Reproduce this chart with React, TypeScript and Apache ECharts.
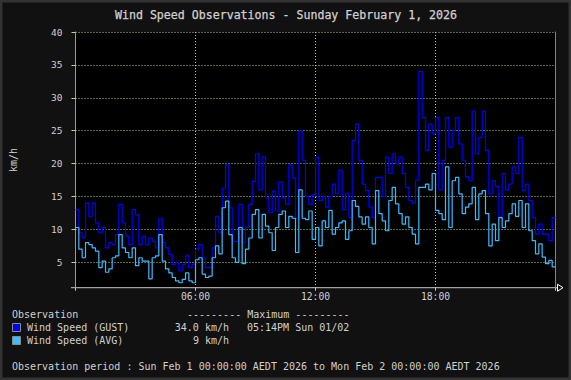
import React, { useEffect, useRef } from "react";
import * as echarts from "echarts";

// 10-minute samples, 00:00 -> 23:50 (km/h)
const gustValues: number[] = [
  13.0, 9.5, 8.7, 14.0, 12.0, 14.0, 11.0, 9.5, 10.3, 7.2, 8.0, 7.7, 9.2, 13.8, 11.0, 9.0, 7.7, 13.0, 12.2, 7.7, 9.0, 7.7, 8.7, 8.2,
  7.2, 11.7, 8.0, 7.2, 6.2, 4.7, 5.0, 3.7, 4.7, 6.0, 4.2, 4.7, 7.0, 7.7, 5.7, 4.2, 4.2, 7.2, 12.0, 9.5, 16.3, 19.8, 13.3, 8.2,
  8.2, 13.8, 8.0, 10.3, 13.8, 17.3, 21.5, 16.0, 21.0, 14.8, 12.5, 15.8, 12.8, 17.2, 14.8, 13.8, 19.8, 17.8, 11.7, 25.0, 20.5, 15.0, 13.8, 15.3,
  21.0, 14.4, 15.0, 13.4, 15.0, 16.9, 15.5, 19.0, 13.0, 15.5, 11.8, 23.5, 26.0, 20.5, 16.9, 15.9, 13.4, 11.8, 17.9, 17.9, 15.0, 21.0, 18.5, 21.5,
  20.0, 21.0, 18.5, 16.4, 14.4, 14.0, 17.5, 34.0, 27.0, 22.0, 26.0, 24.5, 27.0, 16.0, 20.5, 27.0, 22.5, 25.0, 27.0, 23.0, 20.5, 18.0, 17.4, 28.0,
  21.5, 24.0, 28.0, 22.0, 15.4, 17.4, 16.5, 12.0, 18.5, 16.0, 16.9, 19.5, 18.5, 24.0, 15.9, 16.9, 14.4, 11.8, 9.3, 10.8, 9.3, 9.3, 8.3, 11.8,
];
const avgValues: number[] = [
  10.3, 7.0, 5.7, 8.0, 7.7, 7.2, 6.7, 4.2, 5.2, 3.5, 4.0, 5.7, 6.0, 9.2, 7.2, 6.5, 5.7, 7.2, 4.5, 5.7, 5.2, 5.2, 2.5, 5.7,
  6.0, 9.2, 5.2, 4.0, 3.4, 2.7, 2.2, 1.9, 2.4, 3.4, 2.2, 1.9, 5.4, 5.7, 3.2, 2.7, 2.9, 5.7, 7.5, 6.3, 13.3, 14.3, 9.2, 5.7,
  5.0, 10.3, 4.8, 7.0, 8.7, 12.3, 13.0, 8.7, 12.3, 10.5, 9.5, 6.8, 10.3, 12.3, 12.8, 10.3, 12.0, 11.7, 6.5, 16.0, 11.7, 11.5, 12.8, 8.5,
  10.3, 7.5, 11.3, 10.3, 12.9, 9.3, 10.3, 11.0, 11.3, 8.5, 9.8, 14.4, 13.5, 11.9, 10.8, 11.9, 10.3, 7.8, 15.9, 12.4, 11.3, 9.8, 14.4, 16.4,
  13.9, 12.4, 10.8, 11.9, 10.3, 9.3, 7.8, 16.4, 16.4, 16.9, 16.0, 18.5, 12.9, 12.4, 11.5, 19.5, 10.3, 17.4, 17.9, 15.4, 12.4, 13.4, 13.9, 16.4,
  11.5, 15.4, 15.9, 12.4, 7.5, 10.8, 8.3, 11.8, 10.3, 11.3, 12.4, 13.9, 12.0, 14.4, 10.3, 13.9, 9.8, 8.3, 6.3, 7.8, 5.8, 4.8, 5.3, 4.3,
];
const xTickLabels: string[] = ["", "06:00", "12:00", "18:00", ""];
const seriesNames: string[] = ["Wind Speed (GUST)", "Wind Speed (AVG)"];
const maxTexts: string[] = ["34.0 km/h", "9 km/h"];
const maxTimeText = "05:14PM Sun 01/02";
const titleText = "Wind Speed Observations - Sunday February 1, 2026";
const periodText = "Observation period : Sun Feb 1 00:00:00 AEDT 2026 to Mon Feb 2 00:00:00 AEDT 2026";

const MONO = "'DejaVu Sans Mono', monospace";
const TEXT = "#d0d0d0";
const GRID = "#acdc8c";
const GUST = "#0000ff";
const AVG = "#3cbcff";

function toSteps(vals: number[]): number[][] {
  const pts = vals.map((v, i) => [i / 6, v]);
  pts.push([24, vals[vals.length - 1]]);
  return pts;
}

export default function App() {
  const ref = useRef<HTMLDivElement>(null);
  useEffect(() => {
    if (!ref.current) return;
    const chart = echarts.init(ref.current, null, { renderer: "svg" });
    const L = 75.5, T = 32, W = 480, H = 255.7;
    const B = T + H;
    chart.setOption({
      animation: false,
      backgroundColor: "#111111",
      grid: { left: L, top: T, width: W, height: H, show: true, backgroundColor: "#000000", borderWidth: 0 },
      xAxis: {
        type: "value", min: 0, max: 24, interval: 6,
        axisLine: { show: false },
        axisTick: { show: true, length: 3, lineStyle: { color: GRID } },
        axisLabel: {
          margin: 4, color: TEXT, fontFamily: MONO, fontSize: 9.7,
          formatter: (v: number) => xTickLabels[Math.round(v / 6)] ?? "",
        },
        splitLine: { show: true, showMinLine: false, showMaxLine: false, lineStyle: { color: GRID, type: [1, 2], width: 1 } },
      },
      yAxis: [
        {
          type: "value", min: 1.15, max: 40, splitNumber: 8,
          axisLine: { show: true, lineStyle: { color: "#8aac60", width: 1 } },
          axisTick: { show: true, inside: false, length: 4, lineStyle: { color: GRID } },
          axisLabel: {
            margin: 13, color: TEXT, fontFamily: MONO, fontSize: 9.5, showMinLabel: false,
            formatter: (v: number) => (Math.abs(v % 5) < 1e-6 ? String(v) : ""),
          },
          splitLine: { show: true, showMinLine: false, lineStyle: { color: GRID, type: [1, 2], width: 1 } },
        },
        {
          type: "value", min: 1.15, max: 40, position: "right",
          axisLine: { show: true, lineStyle: { color: "#8c8c3c", width: 1 } },
          axisTick: { show: false }, axisLabel: { show: false }, splitLine: { show: false },
        },
      ],
      series: [
        {
          name: seriesNames[0], type: "line", step: "end", showSymbol: false, symbol: "none",
          data: toSteps(gustValues), lineStyle: { color: GUST, width: 1.2 }, itemStyle: { color: GUST },
        },
        {
          name: seriesNames[1], type: "line", step: "end", showSymbol: false, symbol: "none",
          data: toSteps(avgValues), lineStyle: { color: AVG, width: 1.2 }, itemStyle: { color: AVG },
        },
      ],
      graphic: [
        { type: "rect", shape: { x: 1, y: 1, width: 569, height: 378 }, style: { fill: "none", stroke: "#333333", lineWidth: 3 }, silent: true },
        { type: "text", x: 286, y: 15, style: { text: titleText, fill: TEXT, font: `11.6px ${MONO}`, align: "center", verticalAlign: "middle", stroke: TEXT, lineWidth: 0.25 } },
        { type: "text", x: 13, y: 160, rotation: Math.PI / 2, style: { text: "km/h", fill: TEXT, font: `10px ${MONO}`, align: "center", verticalAlign: "middle" } },
        { type: "line", shape: { x1: 71, y1: B, x2: 558, y2: B }, style: { stroke: "#c8c8c8", lineWidth: 1 } },
        { type: "polygon", shape: { points: [[557.5, B - 3.5], [557.5, B + 3.5], [563, B]] }, style: { fill: "#111111", stroke: "#ffffff", lineWidth: 1 } },
        { type: "text", x: 12, y: 314, style: { text: "Observation", fill: TEXT, font: `10px ${MONO}`, align: "left", verticalAlign: "middle" } },
        { type: "text", x: 187, y: 314, style: { text: "--------- Maximum ---------", fill: TEXT, font: `10px ${MONO}`, align: "left", verticalAlign: "middle" } },
        { type: "rect", shape: { x: 12.5, y: 323.5, width: 8, height: 8 }, style: { fill: GUST, stroke: "#8a8a8a", lineWidth: 1 } },
        { type: "text", x: 27, y: 327.5, style: { text: seriesNames[0], fill: TEXT, font: `10px ${MONO}`, align: "left", verticalAlign: "middle" } },
        { type: "text", x: 229, y: 327.5, style: { text: maxTexts[0], fill: TEXT, font: `10px ${MONO}`, align: "right", verticalAlign: "middle" } },
        { type: "text", x: 247, y: 327.5, style: { text: maxTimeText, fill: TEXT, font: `10px ${MONO}`, align: "left", verticalAlign: "middle" } },
        { type: "rect", shape: { x: 12.5, y: 336.5, width: 8, height: 8 }, style: { fill: AVG, stroke: "#8a8a8a", lineWidth: 1 } },
        { type: "text", x: 27, y: 340.5, style: { text: seriesNames[1], fill: TEXT, font: `10px ${MONO}`, align: "left", verticalAlign: "middle" } },
        { type: "text", x: 229, y: 340.5, style: { text: maxTexts[1], fill: TEXT, font: `10px ${MONO}`, align: "right", verticalAlign: "middle" } },
        { type: "text", x: 12, y: 366.5, style: { text: periodText, fill: TEXT, font: `10px ${MONO}`, align: "left", verticalAlign: "middle" } },
      ],
    });
    return () => chart.dispose();
  }, []);
  return (
    <div
      ref={ref}
      style={{ position: "fixed", left: 0, top: 0, width: 571, height: 380 }}
    />
  );
}
